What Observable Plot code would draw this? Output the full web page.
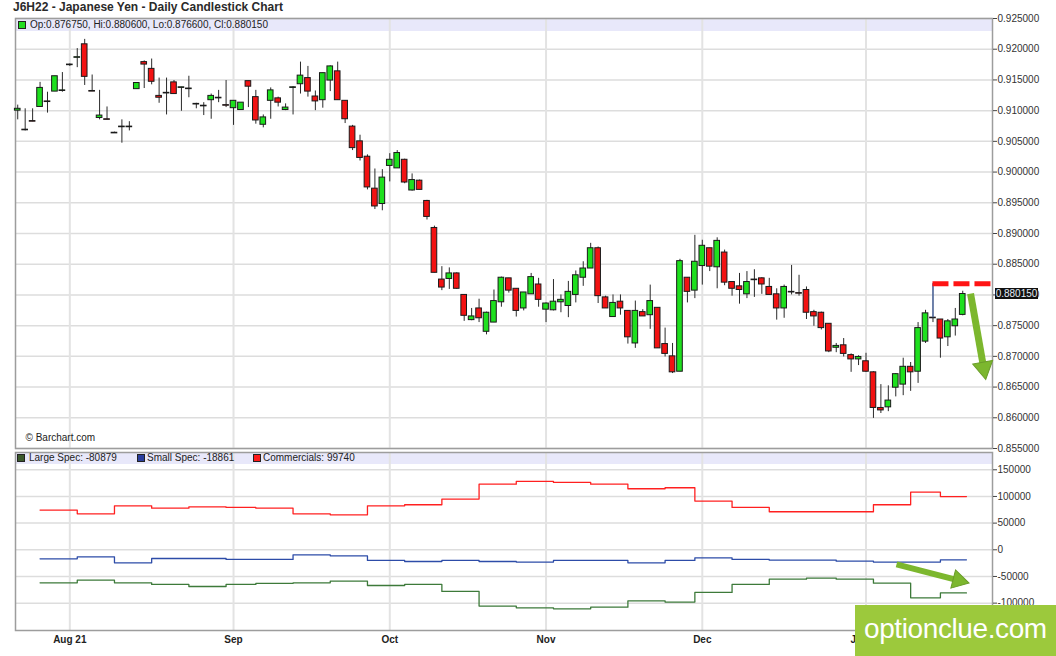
<!DOCTYPE html>
<html>
<head>
<meta charset="utf-8">
<script src="https://cdn.jsdelivr.net/npm/d3@7"></script>
<script src="https://cdn.jsdelivr.net/npm/@observablehq/plot@0.6"></script>
<style>
  body { margin: 0; background: #fff; font-family: "Liberation Sans", Arial, sans-serif; }
  #wrap { position: relative; width: 1056px; height: 656px; overflow: hidden; background: #fff; }
  #title { position: absolute; left: 13px; top: 0; height: 15px; line-height: 15px; font-size: 12px; font-weight: bold; color: #2a2a2a; white-space: nowrap; z-index: 3; }
  .band { position: absolute; background: #e8e8fa; z-index: 0; }
  .plotbox { position: absolute; left: 0; z-index: 1; }
  .legend { position: absolute; font-size: 10px; color: #222; white-space: nowrap; z-index: 2; line-height: 12px; }
  .sq { position: absolute; width: 6px; height: 6px; border: 1px solid #222; }
  #price { position: absolute; left: 995px; width: 43px; height: 11px; line-height: 11px; background: #111; color: #e4ecf6; font-size: 10px; text-align: center; z-index: 2; }
  #wm { position: absolute; left: 855px; top: 605px; width: 201px; height: 51px; background: #9cc93c; z-index: 4; }
  #wm span { position: absolute; left: 9px; top: 10px; line-height: 28px; font-size: 28px; letter-spacing: -0.4px; color: #fff; font-family: "Liberation Sans", Arial, sans-serif; }
</style>
</head>
<body>
<div id="wrap">
  <div id="title">J6H22 - Japanese Yen - Daily Candlestick Chart</div>
  <div class="band" style="left:15px;top:18px;width:977px;height:13px;"></div>
  <div class="band" style="left:15px;top:452px;width:977px;height:12px;"></div>
  <div id="upperBox" class="plotbox" style="top:15px;"></div>
  <div id="lowerBox" class="plotbox" style="top:451px;"></div>
  <div class="legend" style="left:18px;top:19px;"><span class="sq" style="left:0;top:2px;background:#22dd22;"></span><span style="position:absolute;left:12px;top:0;">Op:0.876750, Hi:0.880600, Lo:0.876600, Cl:0.880150</span></div>
  <div class="legend" style="left:17px;top:452px;">
    <span class="sq" style="left:0;top:2px;background:#3c5a2c;"></span><span style="position:absolute;left:12px;top:0;">Large Spec: -80879</span>
    <span class="sq" style="left:120px;top:2px;background:#2b3f9e;"></span><span style="position:absolute;left:130px;top:0;">Small Spec: -18861</span>
    <span class="sq" style="left:236px;top:2px;background:#ff1a1a;"></span><span style="position:absolute;left:246px;top:0;">Commercials: 99740</span>
  </div>
  <div id="price">0.880150</div>
  <div id="wm"><span>optionclue.com</span></div>
</div>
<script>
// ---- trading calendar (categories) ----
const firstDay = "2021-07-22";
const lastDay = "2022-01-21";
const holidays = ["2021-09-06", "2021-11-25", "2021-12-24", "2022-01-17"];
const monthLabels = ["Aug 21", "Sep", "Oct", "Nov", "Dec", "Jan 22"];
const priceTicks = [0.855, 0.860, 0.865, 0.870, 0.875, 0.880, 0.885, 0.890, 0.895, 0.900, 0.905, 0.910, 0.915, 0.920, 0.925];
const cotTicks = [-100000, -50000, 0, 50000, 100000, 150000];

// ---- daily candles ----
const open = [
.9100,.9069,.9083,.9106,.9115,.9131,.9132,.9174,.9186,.9208,
.9132,.9088,.9086,.9064,.9073,.9073,.9135,.9179,.9168,.9124,
.9129,.9146,.9137,.9135,.9111,.9108,.9117,.9120,.9109,.9104,
.9101,.9148,.9122,.9077,.9116,.9120,.9101,.9137,.9143,.9153,
.9123,.9117,.9149,.9164,.9116,.9074,.9050,.9025,.8973,.8948,
.9010,.9006,.9020,.8970,.8986,.8953,.8909,.8825,.8826,.8835,
.8800,.8759,.8778,.8740,.8755,.8788,.8827,.8810,.8778,.8801,
.8817,.8776,.8775,.8788,.8782,.8800,.8828,.8843,.8876,.8796,
.8764,.8789,.8774,.8721,.8772,.8767,.8779,.8720,.8700,.8675,
.8828,.8807,.8847,.8876,.8845,.8869,.8821,.8814,.8801,.8824,
.8827,.8813,.8801,.8778,.8805,.8803,.8808,.8772,.8771,.8753,
.8714,.8718,.8702,.8695,.8692,.8674,.8616,.8617,.8649,.8654,
.8683,.8675,.8724,.8763,.8760,.8731,.8749,.87675];
const high = [
.9109,.9103,.9103,.9146,.9130,.9156,.9162,.9176,.9201,.9216,
.9158,.9133,.9106,.9065,.9085,.9082,.9145,.9181,.9184,.9153,
.9153,.9149,.9138,.9156,.9112,.9113,.9127,.9133,.9149,.9116,
.9113,.9148,.9133,.9093,.9137,.9122,.9111,.9139,.9179,.9172,
.9132,.9161,.9173,.9179,.9116,.9076,.9060,.9028,.9005,.9004,
.9030,.9035,.9021,.8997,.8987,.8954,.8912,.8846,.8844,.8836,
.8800,.8778,.8793,.8772,.8808,.8829,.8827,.8810,.8804,.8835,
.8827,.8787,.8825,.8800,.8822,.8839,.8854,.8884,.8878,.8798,
.8800,.8800,.8774,.8790,.8776,.8816,.8779,.8746,.8721,.8858,
.8828,.8897,.8889,.8876,.8893,.8873,.8821,.8835,.8838,.8841,
.8828,.8827,.8810,.8816,.8848,.8832,.8813,.8775,.8772,.8753,
.8721,.8729,.8704,.8701,.8705,.8675,.8654,.8652,.8672,.8697,
.8690,.8755,.8775,.8818,.8760,.8760,.8778,.8806];
const low = [
.9085,.9067,.9082,.9106,.9096,.9131,.9130,.9172,.9170,.9141,
.9131,.9085,.9085,.9063,.9047,.9067,.9135,.9136,.9142,.9112,
.9093,.9127,.9099,.9121,.9103,.9092,.9086,.9113,.9105,.9076,
.9101,.9105,.9078,.9072,.9086,.9106,.9100,.9093,.9127,.9122,
.9100,.9104,.9131,.9117,.9079,.9035,.9018,.8971,.8939,.8937,
.8984,.9006,.8981,.8969,.8971,.8922,.8836,.8807,.8809,.8809,
.8757,.8758,.8755,.8735,.8755,.8780,.8803,.8764,.8774,.8801,
.8780,.8755,.8774,.8771,.8763,.8787,.8814,.8843,.8786,.8778,
.8764,.8767,.8720,.8713,.8765,.8744,.8713,.8699,.8672,.8675,
.8787,.8794,.8816,.8838,.8810,.8815,.8798,.8785,.8794,.8796,
.8801,.8800,.8759,.8762,.8800,.8798,.8760,.8749,.8743,.8706,
.8706,.8699,.8674,.8685,.8674,.8599,.8607,.8610,.8634,.8636,
.8643,.8656,.8721,.8755,.8697,.8716,.8733,.8766];
const close = [
.9103,.9068,.9082,.9137,.9114,.9156,.9133,.9175,.9187,.9155,
.9131,.9092,.9085,.9063,.9074,.9074,.9145,.9175,.9147,.9121,
.9128,.9127,.9138,.9136,.9110,.9107,.9124,.9121,.9108,.9116,
.9113,.9139,.9084,.9089,.9133,.9113,.9105,.9138,.9157,.9131,
.9115,.9161,.9172,.9117,.9086,.9039,.9023,.8975,.8944,.8991,
.9020,.9031,.8983,.8987,.8971,.8927,.8836,.8812,.8835,.8810,
.8766,.8765,.8762,.8771,.8790,.8828,.8807,.8774,.8804,.8829,
.8792,.8786,.8789,.8792,.8805,.8832,.8843,.8876,.8798,.8778,
.8787,.8778,.8731,.8774,.8765,.8790,.8713,.8704,.8674,.8855,
.8805,.8854,.8880,.8846,.8888,.8820,.8810,.8808,.8821,.8825,
.8817,.8800,.8778,.8813,.8804,.8802,.8771,.8765,.8746,.8708,
.8717,.8704,.8695,.8699,.8675,.8616,.8612,.8628,.8671,.8683,
.8674,.8746,.8770,.8762,.8729,.8757,.8760,.88015];

// ---- weekly COT positions (Tuesday report dates) ----
const cotDates = ["2021-07-27","2021-08-03","2021-08-10","2021-08-17","2021-08-24","2021-08-31","2021-09-07","2021-09-14","2021-09-21","2021-09-28","2021-10-05","2021-10-12","2021-10-19","2021-10-26","2021-11-02","2021-11-09","2021-11-16","2021-11-23","2021-11-30","2021-12-07","2021-12-14","2021-12-21","2021-12-28","2022-01-04","2022-01-11","2022-01-18"];
const commercials = [74400,67500,82500,78100,80600,79400,78100,67500,65600,82500,84400,95000,123100,128100,126300,123100,114400,116300,91300,79400,71300,71300,71300,84400,108100,99740];
const smallSpec = [-16900,-13100,-24400,-16300,-16300,-18100,-18100,-9400,-11300,-20000,-21900,-20000,-21900,-23100,-20000,-20000,-24400,-20000,-15000,-18100,-19400,-19400,-21300,-23100,-23100,-18861];
const largeSpec = [-61900,-56900,-61900,-65000,-68800,-65000,-63100,-61900,-58800,-66900,-65000,-78100,-105600,-108800,-110600,-107500,-95600,-98100,-80000,-65000,-55000,-53100,-55000,-62500,-90000,-80879];

// ---- annotations drawn on the chart ----
const resistance = { date: "2022-01-14", from: 0.8763, level: 0.8818 };
const priceArrow = { x1: 128.05, y1: 0.8802, x2: 130.05, y2: 0.8665 };
const cotArrow = { x1: 118.1, y1: -27500, x2: 127.6, y2: -61500 };
const arrowGreen = "#7cb72e";

// ---- build tables ----
const dates = [];
{
  const end = new Date(lastDay + "T00:00:00Z");
  for (let t = new Date(firstDay + "T00:00:00Z"); t <= end; t.setUTCDate(t.getUTCDate() + 1)) {
    const wd = t.getUTCDay();
    const s = t.toISOString().slice(0, 10);
    if (wd === 0 || wd === 6 || holidays.includes(s)) continue;
    dates.push(s);
  }
}
const n = dates.length;
const candles = dates.map((d, i) => ({ i, date: d, o: open[i], h: high[i], l: low[i], c: close[i] }));
const up = candles.filter(d => d.c >= d.o);
const down = candles.filter(d => d.c < d.o);
const monthIdx = [];
dates.forEach((d, i) => { if (i > 0 && d.slice(5, 7) !== dates[i - 1].slice(5, 7)) monthIdx.push(i); });
const monthLabel = new Map(monthIdx.map((x, j) => [x, monthLabels[j]]));
const idxOf = d => dates.indexOf(d);
const cotRows = cotDates.map((d, j) => ({ i: idxOf(d), comm: commercials[j], small: smallSpec[j], large: largeSpec[j] }));
const lastCot = cotRows[cotRows.length - 1];
cotRows.push({ ...lastCot, i: n - 0.5 });
const xDomain = [-0.3, 131];
const priceDomain = [0.855, 0.925];
const cotDomain = [-151300, 182400];
const W = 1056, ML = 15, MR = 64;
const UH = 436, UT = 3, UB = 3;
const LH = 205, LT = 1, LB = 26;
const font = '"Liberation Sans", Arial, sans-serif';
const resIdx = idxOf(resistance.date);

// filled arrow head: place a triangle just behind the tip, rotated along the arrow (screen space)
const sx = d3.scaleLinear(xDomain, [ML, W - MR]);
function arrowHead(a, sy, back) {
  const X1 = sx(a.x1), Y1 = sy(a.y1), X2 = sx(a.x2), Y2 = sy(a.y2);
  const L = Math.hypot(X2 - X1, Y2 - Y1), ux = (X2 - X1) / L, uy = (Y2 - Y1) / L;
  return { x: sx.invert(X2 - ux * back), y: sy.invert(Y2 - uy * back), rotate: Math.atan2(ux, -uy) * 180 / Math.PI };
}
const syU = d3.scaleLinear(priceDomain, [UH - UB, UT]);
const syL = d3.scaleLinear(cotDomain, [LH - LB, LT]);
const headU = arrowHead(priceArrow, syU, 10);
const headL = arrowHead(cotArrow, syL, 9);
const shaftU = { x1: priceArrow.x1, y1: priceArrow.y1, x2: headU.x, y2: headU.y };
const shaftL = { x1: cotArrow.x1, y1: cotArrow.y1, x2: headL.x, y2: headL.y };

const upper = Plot.plot({
  width: W, height: UH,
  marginLeft: ML, marginRight: MR, marginTop: UT, marginBottom: UB,
  style: { background: "transparent", overflow: "visible", fontFamily: font, fontSize: "10px", color: "#333" },
  x: { domain: xDomain, axis: null },
  y: { domain: priceDomain, axis: null },
  marks: [
    Plot.gridY(priceTicks, { stroke: "#dddddd", strokeOpacity: 1, strokeWidth: 1.5 }),
    Plot.gridX(monthIdx, { stroke: "#e3e3e3", strokeOpacity: 1, strokeWidth: 2 }),
    Plot.frame({ stroke: "#9d9d9d", strokeWidth: 1.5 }),
    Plot.axisY(priceTicks, { anchor: "right", tickSize: 4, tickPadding: 1, tickFormat: d3.format(".6f"), fontSize: 10, fill: "#333", stroke: "#444" }),
    Plot.text(["© Barchart.com"], { frameAnchor: "bottom-left", dx: 10, dy: -11, textAnchor: "start", lineAnchor: "middle", fontSize: 10, fill: "#222" }),
    Plot.ruleX(candles, { x: "i", y1: "l", y2: "h", stroke: "#2a2a2a", strokeWidth: 1 }),
    Plot.rect(up, { x1: d => d.i - 0.5, x2: d => d.i + 0.5, y1: "o", y2: "c", insetLeft: 0.9, insetRight: 0.9, fill: "#1ee01e", stroke: "#1a1a1a", strokeWidth: 1 }),
    Plot.rect(down, { x1: d => d.i - 0.5, x2: d => d.i + 0.5, y1: "o", y2: "c", insetLeft: 0.9, insetRight: 0.9, fill: "#f21212", stroke: "#1a1a1a", strokeWidth: 1 }),
    Plot.ruleX([resistance], { x: () => resIdx, y1: "from", y2: "level", stroke: "#5b78b6", strokeWidth: 1.3 }),
    Plot.ruleY([resistance], { y: "level", x1: () => resIdx, x2: () => xDomain[1] + 0.3, stroke: "#ff1414", strokeWidth: 5, strokeDasharray: "16,5" }),
    Plot.link([shaftU], { x1: "x1", y1: "y1", x2: "x2", y2: "y2", stroke: arrowGreen, strokeWidth: 7 }),
    Plot.dot([headU], { x: "x", y: "y", symbol: "triangle", r: 7.5, rotate: "rotate", fill: arrowGreen, stroke: "#6a9c2a", strokeWidth: 1 })
  ]
});
document.getElementById("upperBox").appendChild(upper);
const py = upper.scale("y").apply(close[n - 1]) + 15;
document.getElementById("price").style.top = (py - 5.5) + "px";

const lower = Plot.plot({
  width: W, height: LH,
  marginLeft: ML, marginRight: MR, marginTop: LT, marginBottom: LB,
  style: { background: "transparent", overflow: "visible", fontFamily: font, fontSize: "10px", color: "#333" },
  x: { domain: xDomain, axis: null },
  y: { domain: cotDomain, axis: null },
  marks: [
    Plot.gridY(cotTicks, { stroke: "#dddddd", strokeOpacity: 1, strokeWidth: 1.5 }),
    Plot.gridX(monthIdx, { stroke: "#e3e3e3", strokeOpacity: 1, strokeWidth: 2 }),
    Plot.frame({ stroke: "#9d9d9d", strokeWidth: 1.5 }),
    Plot.axisY(cotTicks, { anchor: "right", tickSize: 4, tickPadding: 1, tickFormat: d => String(d), fontSize: 10, fill: "#333", stroke: "#444" }),
    Plot.axisX(monthIdx, { anchor: "bottom", tickSize: 0, tickPadding: 5, tickFormat: d => monthLabel.get(d), fontSize: 10, fontWeight: "bold", fill: "#222" }),
    Plot.line(cotRows, { x: "i", y: "comm", curve: "step-after", stroke: "#ff2020", strokeWidth: 1.3 }),
    Plot.line(cotRows, { x: "i", y: "small", curve: "step-after", stroke: "#2d4ca8", strokeWidth: 1.3 }),
    Plot.line(cotRows, { x: "i", y: "large", curve: "step-after", stroke: "#3d7a3a", strokeWidth: 1.3 }),
    Plot.link([shaftL], { x1: "x1", y1: "y1", x2: "x2", y2: "y2", stroke: arrowGreen, strokeWidth: 6 }),
    Plot.dot([headL], { x: "x", y: "y", symbol: "triangle", r: 7, rotate: "rotate", fill: arrowGreen, stroke: "#6a9c2a", strokeWidth: 1 })
  ]
});
document.getElementById("lowerBox").appendChild(lower);
</script>
</body>
</html>
